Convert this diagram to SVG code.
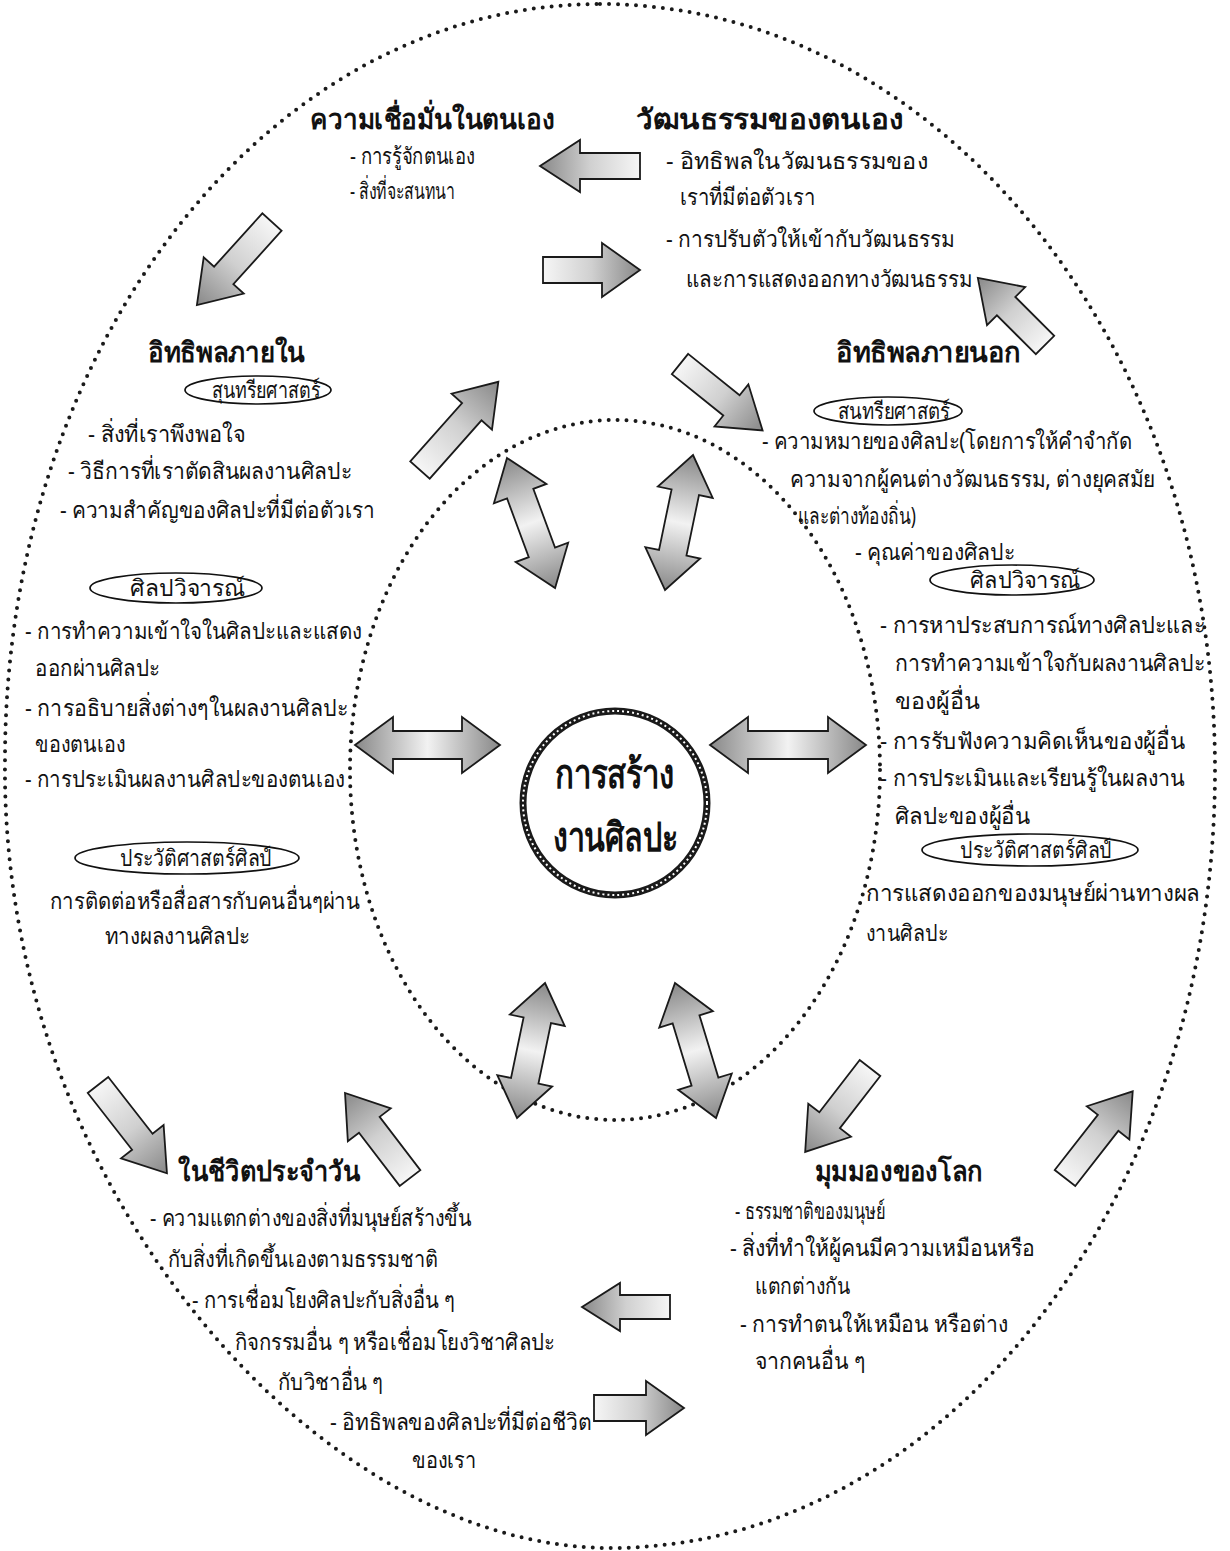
<svg xmlns="http://www.w3.org/2000/svg" width="1230" height="1551" viewBox="0 0 1230 1551">
<style>
.t{font-family:"Noto Sans","DejaVu Sans",sans-serif;font-size:23px;fill:#111}
.h{font-family:"Noto Sans","DejaVu Sans",sans-serif;font-size:28px;font-weight:bold;fill:#111}
.c{font-family:"Noto Sans","DejaVu Sans",sans-serif;font-size:40px;font-weight:bold;fill:#111;text-anchor:middle}
.dots{fill:none;stroke:#1a1a1a;stroke-width:4;stroke-linecap:round;stroke-dasharray:0 9}
.lbl{fill:#fff;stroke:#111;stroke-width:1.7}
.sa{fill:url(#gS);stroke:#1a1a1a;stroke-width:1.8}
.da{fill:url(#gD);stroke:#1a1a1a;stroke-width:1.8}
</style>
<defs>
<linearGradient id="gS" x1="0" y1="0" x2="1" y2="0"><stop offset="0" stop-color="#f6f6f6"/><stop offset="0.5" stop-color="#d0d0d0"/><stop offset="1" stop-color="#888"/></linearGradient>
<linearGradient id="gD" x1="0" y1="0" x2="1" y2="0"><stop offset="0" stop-color="#888"/><stop offset="0.5" stop-color="#f2f2f2"/><stop offset="1" stop-color="#888"/></linearGradient>
</defs>
<rect width="1230" height="1551" fill="#fff"/>
<g id="frames">
<path class="dots" d="M600,4 C940,4 1215,346 1215,770 C1215,1200 944,1548 610,1548 C320,1548 0,1190 5,760 C5,342 271,4 600,4 Z"/>
<ellipse class="dots" cx="615" cy="770" rx="265" ry="350"/>
</g>
<g id="connectors">
<path class="sa" transform="translate(640,166) rotate(180)" d="M0,-13 L60,-13 L60,-26 L100,0 L60,26 L60,13 L0,13 Z"/>
<path class="sa" transform="translate(543,270)" d="M0,-13 L59,-13 L59,-27 L97,0 L59,27 L59,13 L0,13 Z"/>
<path class="sa" transform="translate(272,222) rotate(132.1)" d="M0,-13 L72,-13 L72,-27 L112,0 L72,27 L72,13 L0,13 Z"/>
<path class="sa" transform="translate(1045,345) rotate(-135)" d="M0,-13 L55,-13 L55,-27 L95,0 L55,27 L55,13 L0,13 Z"/>
<path class="sa" transform="translate(420,470) rotate(-48.4)" d="M0,-13 L78,-13 L78,-27 L118,0 L78,27 L78,13 L0,13 Z"/>
<path class="sa" transform="translate(680,364) rotate(38.8)" d="M0,-13 L66,-13 L66,-27 L106,0 L66,27 L66,13 L0,13 Z"/>
<path class="sa" transform="translate(410,1178) rotate(-127.4)" d="M0,-13 L67,-13 L67,-27 L107,0 L67,27 L67,13 L0,13 Z"/>
<path class="sa" transform="translate(98,1085) rotate(52)" d="M0,-13 L72,-13 L72,-27 L112,0 L72,27 L72,13 L0,13 Z"/>
<path class="sa" transform="translate(870,1068) rotate(127.7)" d="M0,-13 L66,-13 L66,-27 L106,0 L66,27 L66,13 L0,13 Z"/>
<path class="sa" transform="translate(1065,1178) rotate(-52)" d="M0,-13 L70,-13 L70,-27 L110,0 L70,27 L70,13 L0,13 Z"/>
<path class="sa" transform="translate(670,1307) rotate(180)" d="M0,-12 L50,-12 L50,-24 L88,0 L50,24 L50,12 L0,12 Z"/>
<path class="sa" transform="translate(594,1408)" d="M0,-13 L52,-13 L52,-27 L90,0 L52,27 L52,13 L0,13 Z"/>
<path class="da" transform="translate(507,458) rotate(69.7)" d="M0,0 L38,-28 L38,-14 L100.6,-14 L100.6,-28 L138.6,0 L100.6,28 L100.6,14 L38,14 L38,28 Z"/>
<path class="da" transform="translate(693,455) rotate(101.7)" d="M0,0 L38,-28 L38,-14 L99.9,-14 L99.9,-28 L137.9,0 L99.9,28 L99.9,14 L38,14 L38,28 Z"/>
<path class="da" transform="translate(355,745)" d="M0,0 L38,-28 L38,-14 L107,-14 L107,-28 L145,0 L107,28 L107,14 L38,14 L38,28 Z"/>
<path class="da" transform="translate(710,745)" d="M0,0 L38,-28 L38,-14 L118,-14 L118,-28 L156,0 L118,28 L118,14 L38,14 L38,28 Z"/>
<path class="da" transform="translate(545,983) rotate(101.7)" d="M0,0 L38,-28 L38,-14 L99.9,-14 L99.9,-28 L137.9,0 L99.9,28 L99.9,14 L38,14 L38,28 Z"/>
<path class="da" transform="translate(675,983) rotate(73.1)" d="M0,0 L38,-28 L38,-14 L103.1,-14 L103.1,-28 L141.1,0 L103.1,28 L103.1,14 L38,14 L38,28 Z"/>
</g>
<g id="center">
<circle cx="615" cy="803" r="92" fill="#fff" stroke="#1a1a1a" stroke-width="7"/>
<circle cx="615" cy="803" r="92" fill="none" stroke="#fff" stroke-width="2" stroke-dasharray="2 3"/>
<text class="c" x="615" y="788" textLength="120" lengthAdjust="spacingAndGlyphs">การสร้าง</text>
<text class="c" x="615" y="851" textLength="125" lengthAdjust="spacingAndGlyphs">งานศิลปะ</text>
</g>
<g id="node-confidence">
<text class="h" x="310" y="129" textLength="245" lengthAdjust="spacingAndGlyphs">ความเชื่อมั่นในตนเอง</text>
<text class="t" x="350" y="164" textLength="125" lengthAdjust="spacingAndGlyphs">- การรู้จักตนเอง</text>
<text class="t" x="350" y="199" textLength="105" lengthAdjust="spacingAndGlyphs">- สิ่งที่จะสนทนา</text>
</g>
<g id="node-culture">
<text class="h" x="636" y="129" textLength="268" lengthAdjust="spacingAndGlyphs">วัฒนธรรมของตนเอง</text>
<text class="t" x="666" y="169" textLength="262" lengthAdjust="spacingAndGlyphs">- อิทธิพลในวัฒนธรรมของ</text>
<text class="t" x="680" y="205" textLength="135" lengthAdjust="spacingAndGlyphs">เราที่มีต่อตัวเรา</text>
<text class="t" x="666" y="247" textLength="289" lengthAdjust="spacingAndGlyphs">-  การปรับตัวให้เข้ากับวัฒนธรรม</text>
<text class="t" x="686" y="287" textLength="286" lengthAdjust="spacingAndGlyphs">และการแสดงออกทางวัฒนธรรม</text>
</g>
<g id="node-inner">
<text class="h" x="148" y="362" textLength="157" lengthAdjust="spacingAndGlyphs">อิทธิพลภายใน</text>
<ellipse class="lbl" cx="258" cy="390" rx="73" ry="14"/>
<text class="t" x="212" y="398" textLength="108" lengthAdjust="spacingAndGlyphs">สุนทรียศาสตร์</text>
<text class="t" x="88" y="442" textLength="157" lengthAdjust="spacingAndGlyphs">- สิ่งที่เราพึงพอใจ</text>
<text class="t" x="68" y="479" textLength="284" lengthAdjust="spacingAndGlyphs">- วิธีการที่เราตัดสินผลงานศิลปะ</text>
<text class="t" x="60" y="518" textLength="315" lengthAdjust="spacingAndGlyphs">- ความสำคัญของศิลปะที่มีต่อตัวเรา</text>
<ellipse class="lbl" cx="176" cy="588" rx="86" ry="15"/>
<text class="t" x="130" y="596" textLength="115" lengthAdjust="spacingAndGlyphs">ศิลปวิจารณ์</text>
<text class="t" x="25" y="639" textLength="337" lengthAdjust="spacingAndGlyphs">- การทำความเข้าใจในศิลปะและแสดง</text>
<text class="t" x="35" y="676" textLength="125" lengthAdjust="spacingAndGlyphs">ออกผ่านศิลปะ</text>
<text class="t" x="25" y="716" textLength="323" lengthAdjust="spacingAndGlyphs">- การอธิบายสิ่งต่างๆในผลงานศิลปะ</text>
<text class="t" x="35" y="752" textLength="90" lengthAdjust="spacingAndGlyphs">ของตนเอง</text>
<text class="t" x="25" y="787" textLength="320" lengthAdjust="spacingAndGlyphs">- การประเมินผลงานศิลปะของตนเอง</text>
<ellipse class="lbl" cx="187" cy="858" rx="112" ry="16"/>
<text class="t" x="120" y="866" textLength="152" lengthAdjust="spacingAndGlyphs">ประวัติศาสตร์ศิลป์</text>
<text class="t" x="50" y="909" textLength="310" lengthAdjust="spacingAndGlyphs">การติดต่อหรือสื่อสารกับคนอื่นๆผ่าน</text>
<text class="t" x="105" y="944" textLength="145" lengthAdjust="spacingAndGlyphs">ทางผลงานศิลปะ</text>
</g>
<g id="node-outer">
<text class="h" x="836" y="362" textLength="185" lengthAdjust="spacingAndGlyphs">อิทธิพลภายนอก</text>
<ellipse class="lbl" cx="888" cy="411" rx="74" ry="14"/>
<text class="t" x="838" y="419" textLength="112" lengthAdjust="spacingAndGlyphs">สนทรียศาสตร์</text>
<text class="t" x="762" y="449" textLength="370" lengthAdjust="spacingAndGlyphs">- ความหมายของศิลปะ(โดยการให้คำจำกัด</text>
<text class="t" x="790" y="487" textLength="365" lengthAdjust="spacingAndGlyphs">ความจากผู้คนต่างวัฒนธรรม, ต่างยุคสมัย</text>
<text class="t" x="798" y="524" textLength="118" lengthAdjust="spacingAndGlyphs">และต่างท้องถิ่น)</text>
<text class="t" x="855" y="560" textLength="160" lengthAdjust="spacingAndGlyphs">- คุณค่าของศิลปะ</text>
<ellipse class="lbl" cx="1012" cy="580" rx="82" ry="15"/>
<text class="t" x="970" y="588" textLength="110" lengthAdjust="spacingAndGlyphs">ศิลปวิจารณ์</text>
<text class="t" x="880" y="633" textLength="325" lengthAdjust="spacingAndGlyphs">- การหาประสบการณ์ทางศิลปะและ</text>
<text class="t" x="895" y="671" textLength="310" lengthAdjust="spacingAndGlyphs">การทำความเข้าใจกับผลงานศิลปะ</text>
<text class="t" x="895" y="709" textLength="85" lengthAdjust="spacingAndGlyphs">ของผู้อื่น</text>
<text class="t" x="880" y="749" textLength="305" lengthAdjust="spacingAndGlyphs">- การรับฟังความคิดเห็นของผู้อื่น</text>
<text class="t" x="880" y="786" textLength="305" lengthAdjust="spacingAndGlyphs">- การประเมินและเรียนรู้ในผลงาน</text>
<text class="t" x="895" y="824" textLength="135" lengthAdjust="spacingAndGlyphs">ศิลปะของผู้อื่น</text>
<ellipse class="lbl" cx="1030" cy="850" rx="108" ry="16"/>
<text class="t" x="960" y="858" textLength="152" lengthAdjust="spacingAndGlyphs">ประวัติศาสตร์ศิลป์</text>
<text class="t" x="866" y="901" textLength="334" lengthAdjust="spacingAndGlyphs">การแสดงออกของมนุษย์ผ่านทางผล</text>
<text class="t" x="866" y="941" textLength="82" lengthAdjust="spacingAndGlyphs">งานศิลปะ</text>
</g>
<g id="node-daily">
<text class="h" x="178" y="1181" textLength="182" lengthAdjust="spacingAndGlyphs">ในชีวิตประจำวัน</text>
<text class="t" x="150" y="1226" textLength="322" lengthAdjust="spacingAndGlyphs">- ความแตกต่างของสิ่งที่มนุษย์สร้างขึ้น</text>
<text class="t" x="168" y="1267" textLength="270" lengthAdjust="spacingAndGlyphs">กับสิ่งที่เกิดขึ้นเองตามธรรมชาติ</text>
<text class="t" x="192" y="1308" textLength="263" lengthAdjust="spacingAndGlyphs">- การเชื่อมโยงศิลปะกับสิ่งอื่น ๆ</text>
<text class="t" x="235" y="1350" textLength="320" lengthAdjust="spacingAndGlyphs">กิจกรรมอื่น ๆ หรือเชื่อมโยงวิชาศิลปะ</text>
<text class="t" x="278" y="1390" textLength="105" lengthAdjust="spacingAndGlyphs">กับวิชาอื่น ๆ</text>
<text class="t" x="330" y="1430" textLength="262" lengthAdjust="spacingAndGlyphs">- อิทธิพลของศิลปะที่มีต่อชีวิต</text>
<text class="t" x="412" y="1468" textLength="64" lengthAdjust="spacingAndGlyphs">ของเรา</text>
</g>
<g id="node-world">
<text class="h" x="815" y="1181" textLength="168" lengthAdjust="spacingAndGlyphs">มุมมองของโลก</text>
<text class="t" x="735" y="1219" textLength="150" lengthAdjust="spacingAndGlyphs">-  ธรรมชาติของมนุษย์</text>
<text class="t" x="730" y="1256" textLength="305" lengthAdjust="spacingAndGlyphs">- สิ่งที่ทำให้ผู้คนมีความเหมือนหรือ</text>
<text class="t" x="755" y="1294" textLength="95" lengthAdjust="spacingAndGlyphs">แตกต่างกัน</text>
<text class="t" x="740" y="1332" textLength="268" lengthAdjust="spacingAndGlyphs">- การทำตนให้เหมือน  หรือต่าง</text>
<text class="t" x="755" y="1369" textLength="110" lengthAdjust="spacingAndGlyphs">จากคนอื่น ๆ</text>
</g>
</svg>
